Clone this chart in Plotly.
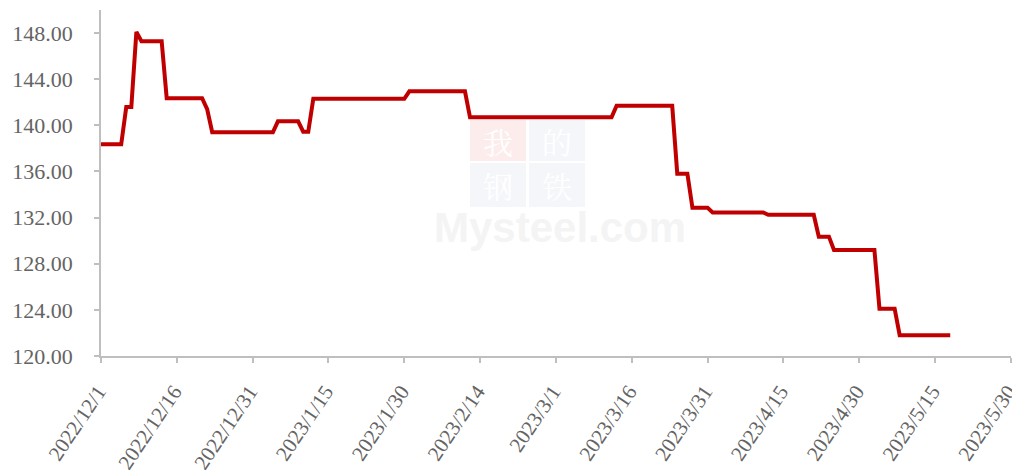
import plotly.graph_objects as go

# Data: vertices of the price line (date, value)
dates = [
    "2022-12-01", "2022-12-05", "2022-12-06", "2022-12-07", "2022-12-08", "2022-12-09",
    "2022-12-13", "2022-12-14", "2022-12-21", "2022-12-22", "2022-12-23",
    "2023-01-04", "2023-01-05", "2023-01-09", "2023-01-10", "2023-01-11", "2023-01-12",
    "2023-01-30", "2023-01-31", "2023-02-11", "2023-02-12",
    "2023-03-12", "2023-03-13", "2023-03-24", "2023-03-25", "2023-03-27", "2023-03-28",
    "2023-03-31", "2023-04-01", "2023-04-11", "2023-04-12", "2023-04-21", "2023-04-22",
    "2023-04-24", "2023-04-25", "2023-05-03", "2023-05-04", "2023-05-07", "2023-05-08",
    "2023-05-18",
]
values = [
    138.35, 138.35, 141.60, 141.60, 148.10, 147.30,
    147.30, 142.35, 142.35, 141.40, 139.40,
    139.40, 140.35, 140.35, 139.45, 139.45, 142.30,
    142.30, 142.95, 142.95, 140.70,
    140.70, 141.70, 141.70, 135.80, 135.80, 132.85,
    132.85, 132.45, 132.45, 132.25, 132.25, 130.35,
    130.35, 129.20, 129.20, 124.10, 124.10, 121.80,
    121.80,
]

x_start = "2022-12-01"
x_end = "2023-05-30 00:30"
y_min, y_max, y_step = 120, 150, 4

fig = go.Figure()
fig.add_trace(go.Scatter(
    x=dates, y=values, mode="lines",
    line=dict(color="#c00000", width=4),
    hoverinfo="x+y", showlegend=False,
))

axis_color = "#bfbfbf"
y_tick_font = dict(family="Liberation Serif, Times New Roman, serif", size=22, color="#646464")
x_tick_font = dict(family="Liberation Serif, Times New Roman, serif", size=21, color="#646464")

fig.update_xaxes(
    type="date",
    range=[x_start, x_end],
    tick0="2022-12-01", dtick=15 * 86400000,
    tickformat="%Y/%-m/%-d",
    ticksuffix="\u00a0",
    tickangle=-56,
    showgrid=False, zeroline=False,
    showline=True, linecolor=axis_color, linewidth=1.5,
    ticks="outside", ticklen=5, tickcolor=axis_color, tickwidth=1.5,
    tickfont=x_tick_font, automargin=False,
    ticklabelstandoff=4, ticklabeloverflow="allow",
)
fig.update_yaxes(
    range=[y_min, y_max],
    tick0=y_min, dtick=y_step,
    tickformat=".2f",
    showgrid=False, zeroline=False,
    showline=True, linecolor=axis_color, linewidth=1.5,
    ticks="outside", ticklen=5, tickcolor=axis_color, tickwidth=1.5,
    tickfont=y_tick_font, automargin=False,
    ticklabelstandoff=17, ticklabeloverflow="allow",
)

# Watermark (Mysteel logo), very faint
def px(xp):
    return (xp - 101) / 910

def py(yp):
    return (356 - yp) / 346

squares = [
    (470, 526, 120, 161, "#fcecec", "我"),
    (529, 585, 120, 161, "#f5f6f9", "的"),
    (470, 526, 163, 207, "#f5f6f9", "钢"),
    (529, 585, 163, 207, "#f5f6f9", "铁"),
]
for x0, x1, y0, y1, col, ch in squares:
    fig.add_shape(type="rect", xref="paper", yref="paper",
                  x0=px(x0), x1=px(x1), y0=py(y1), y1=py(y0),
                  fillcolor=col, line=dict(width=0), layer="below")
    fig.add_annotation(xref="paper", yref="paper",
                       x=px((x0 + x1) / 2), y=py((y0 + y1) / 2),
                       text=ch, showarrow=False,
                       font=dict(family="Noto Serif CJK SC, Noto Sans CJK SC", size=30, color="#ffffff"))

fig.add_annotation(xref="paper", yref="paper", x=px(560), y=py(227),
                   text="<b>Mysteel.com</b>", showarrow=False,
                   font=dict(family="Liberation Sans, Arial", size=42, color="#f4f4f4"))

# page body has an 8px default margin, so the figure is 1012x468 and margins are shifted
fig.update_layout(
    width=1012, height=468,
    margin=dict(l=93, r=9, t=2, b=120),
    plot_bgcolor="white", paper_bgcolor="white",
)

fig.write_html("out.html")
